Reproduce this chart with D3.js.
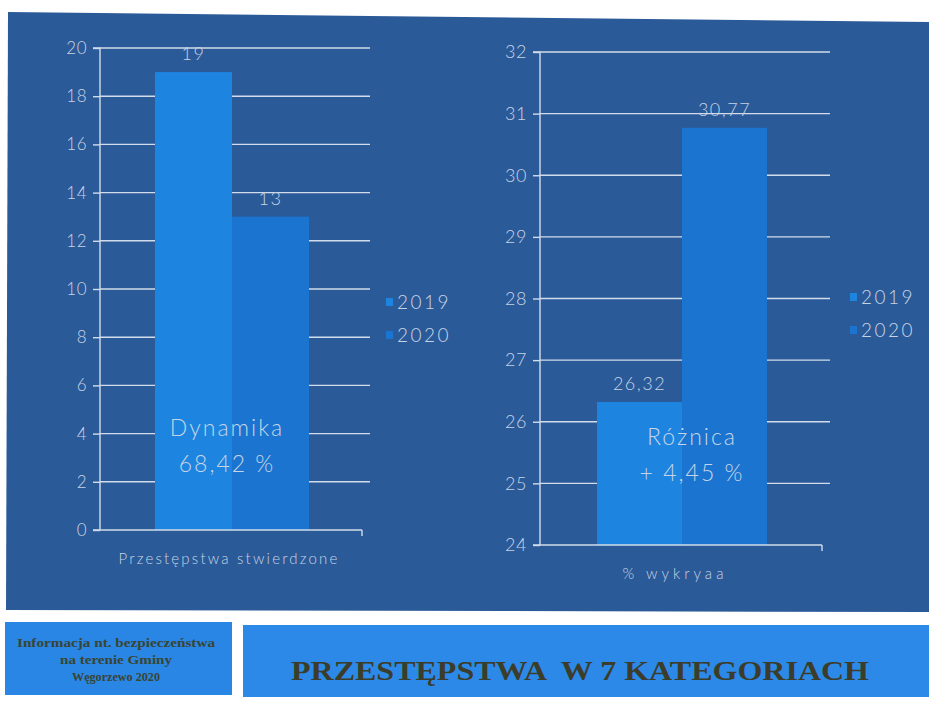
<!DOCTYPE html>
<html><head><meta charset="utf-8">
<script src="https://cdn.jsdelivr.net/npm/d3@7"></script>
<style>html,body{margin:0;padding:0;background:#fff;}svg{display:block;}text{white-space:pre;}</style>
</head><body>
<svg id="c" width="929" height="703"></svg>
<script>
const years = ["2019", "2020"];
const crimesCategory = "Przestępstwa stwierdzone";
const crimesValues = [19, 13];
const crimesTicks = [0, 2, 4, 6, 8, 10, 12, 14, 16, 18, 20];
const detectCategory = "% wykryaa";
const detectValues = [26.32, 30.77];
const detectTicks = [24, 25, 26, 27, 28, 29, 30, 31, 32];
const noteLeft = ["Dynamika", "68,42 %"];
const noteRight = ["Różnica", "+ 4,45 %"];
const title = "PRZESTĘPSTWA  W 7 KATEGORIACH";
const subtitle = ["Informacja nt. bezpieczeństwa", "na terenie Gminy", "Węgorzewo 2020"];

const svg = d3.select("#c");
const BG = "#2b5a98", TXT = "#c6d4e6", GRID = "#d2dcea";
const colors = d3.scaleOrdinal().domain(years).range(["#1d84e0", "#1a74d0"]);
const loc = d3.formatLocale({decimal: ",", thousands: " ", grouping: [3], currency: ["", ""]});
const fmt = v => Number.isInteger(v) ? String(v) : loc.format(".2f")(v);
const FONT = "Lato, 'Open Sans', sans-serif";

// slide background (slightly skewed like the photo)
svg.append("polygon").attr("points", "8,12 929,22 929,612 6,610").attr("fill", BG);
// bottom boxes
svg.append("rect").attr("x", 5).attr("y", 622).attr("width", 227).attr("height", 73).attr("fill", "#2a86e4");
svg.append("rect").attr("x", 243).attr("y", 625).attr("width", 686).attr("height", 72).attr("fill", "#2d89e8");

function chart(cfg) {
  const g = svg.append("g");
  const y = d3.scaleLinear().domain([cfg.ticks[0], cfg.ticks[cfg.ticks.length - 1]]).range([cfg.y0, cfg.y1]);
  const x = d3.scaleBand().domain(years).range(cfg.bx).paddingInner(0).paddingOuter(0);
  // gridlines
  g.selectAll("line.grid").data(cfg.ticks.slice(1)).join("line")
    .attr("x1", cfg.ax).attr("x2", cfg.gx).attr("y1", d => y(d)).attr("y2", d => y(d))
    .attr("stroke", GRID).attr("stroke-width", 1.4);
  // bars
  g.selectAll("rect.bar").data(cfg.values).join("rect")
    .attr("x", (d, i) => x(years[i])).attr("width", x.bandwidth())
    .attr("y", d => y(d)).attr("height", d => cfg.y0 - y(d))
    .attr("fill", (d, i) => colors(years[i]));
  // y axis
  const ya = d3.axisLeft(y).tickValues(cfg.ticks).tickSize(7).tickFormat(d => String(d)).tickPadding(6);
  const yg = g.append("g").attr("transform", `translate(${cfg.ax},0)`).call(ya);
  yg.select(".domain").attr("stroke", GRID).attr("stroke-width", 1.4).attr("d", `M-7,${cfg.y1}H0V${cfg.y0}`);
  yg.selectAll(".tick line").attr("stroke", GRID).attr("stroke-width", 1.4);
  yg.selectAll(".tick text").attr("fill", TXT).attr("font-family", FONT).attr("font-weight", 300)
    .attr("font-size", cfg.fs).attr("letter-spacing", 0.5);
  // x axis
  g.append("line").attr("x1", cfg.ax - 7).attr("x2", cfg.gx - 8).attr("y1", cfg.y0).attr("y2", cfg.y0)
    .attr("stroke", GRID).attr("stroke-width", 1.4);
  g.append("line").attr("x1", cfg.gx - 8).attr("x2", cfg.gx - 8).attr("y1", cfg.y0).attr("y2", cfg.y0 + 6)
    .attr("stroke", GRID).attr("stroke-width", 1.4);
  g.append("text").attr("x", cfg.cx).attr("y", cfg.y0 + 34).attr("text-anchor", "middle")
    .attr("fill", TXT).attr("font-family", FONT).attr("font-weight", 300).attr("font-size", 15).attr("letter-spacing", cfg.cls)
    .text(cfg.category);
  // value labels
  g.selectAll("text.val").data(cfg.values).join("text")
    .attr("x", (d, i) => x(years[i]) + x.bandwidth() / 2).attr("y", d => y(d) - 12)
    .attr("text-anchor", "middle").attr("fill", TXT).attr("font-family", FONT).attr("font-weight", 300)
    .attr("font-size", 18).attr("letter-spacing", 1.5).text(d => fmt(d));
  // annotation
  g.selectAll("text.note").data(cfg.note).join("text")
    .attr("x", cfg.nx).attr("y", (d, i) => cfg.ny + i * 36).attr("text-anchor", "middle")
    .attr("fill", TXT).attr("font-family", FONT).attr("font-weight", 300).attr("font-size", 23).attr("letter-spacing", 2)
    .text(d => d);
  // legend
  const lg = g.selectAll("g.leg").data(years).join("g")
    .attr("transform", (d, i) => `translate(${cfg.lx},${cfg.ly + i * 33})`);
  lg.append("rect").attr("x", 0).attr("y", -11).attr("width", 7).attr("height", 8).attr("fill", d => colors(d));
  lg.append("text").attr("x", 11).attr("y", 0).attr("fill", TXT).attr("font-family", FONT).attr("font-weight", 300)
    .attr("font-size", 19).attr("letter-spacing", 2.5).text(d => d);
}

chart({values: crimesValues, ticks: crimesTicks, category: crimesCategory, note: noteLeft, cx: 229, cls: 2.2,
  ax: 100, gx: 370, y0: 530, y1: 48, bx: [155, 309], fs: 17, nx: 227, ny: 436, lx: 386, ly: 309});
chart({values: detectValues, ticks: detectTicks, category: detectCategory, note: noteRight, cx: 675, cls: 4,
  ax: 540, gx: 830, y0: 545, y1: 52, bx: [597, 767], fs: 18, nx: 692, ny: 445, lx: 850, ly: 304});

// bottom texts
svg.append("text").attr("x", 580).attr("y", 680).attr("text-anchor", "middle")
  .attr("font-family", "'Liberation Serif', 'Times New Roman', serif").attr("font-weight", "bold")
  .attr("font-size", 28).attr("fill", "#3b3d2a").attr("textLength", 578).attr("lengthAdjust", "spacingAndGlyphs")
  .text(title);
const subLen = [198, 112, 88];
svg.selectAll("text.sub").data(subtitle).join("text")
  .attr("x", 116).attr("y", (d, i) => 647 + i * 17).attr("text-anchor", "middle")
  .attr("font-family", "'Liberation Serif', 'Times New Roman', serif").attr("font-weight", "bold")
  .attr("font-size", 13).attr("fill", "#394532")
  .attr("textLength", (d, i) => subLen[i]).attr("lengthAdjust", "spacingAndGlyphs").text(d => d);
</script>
</body></html>
